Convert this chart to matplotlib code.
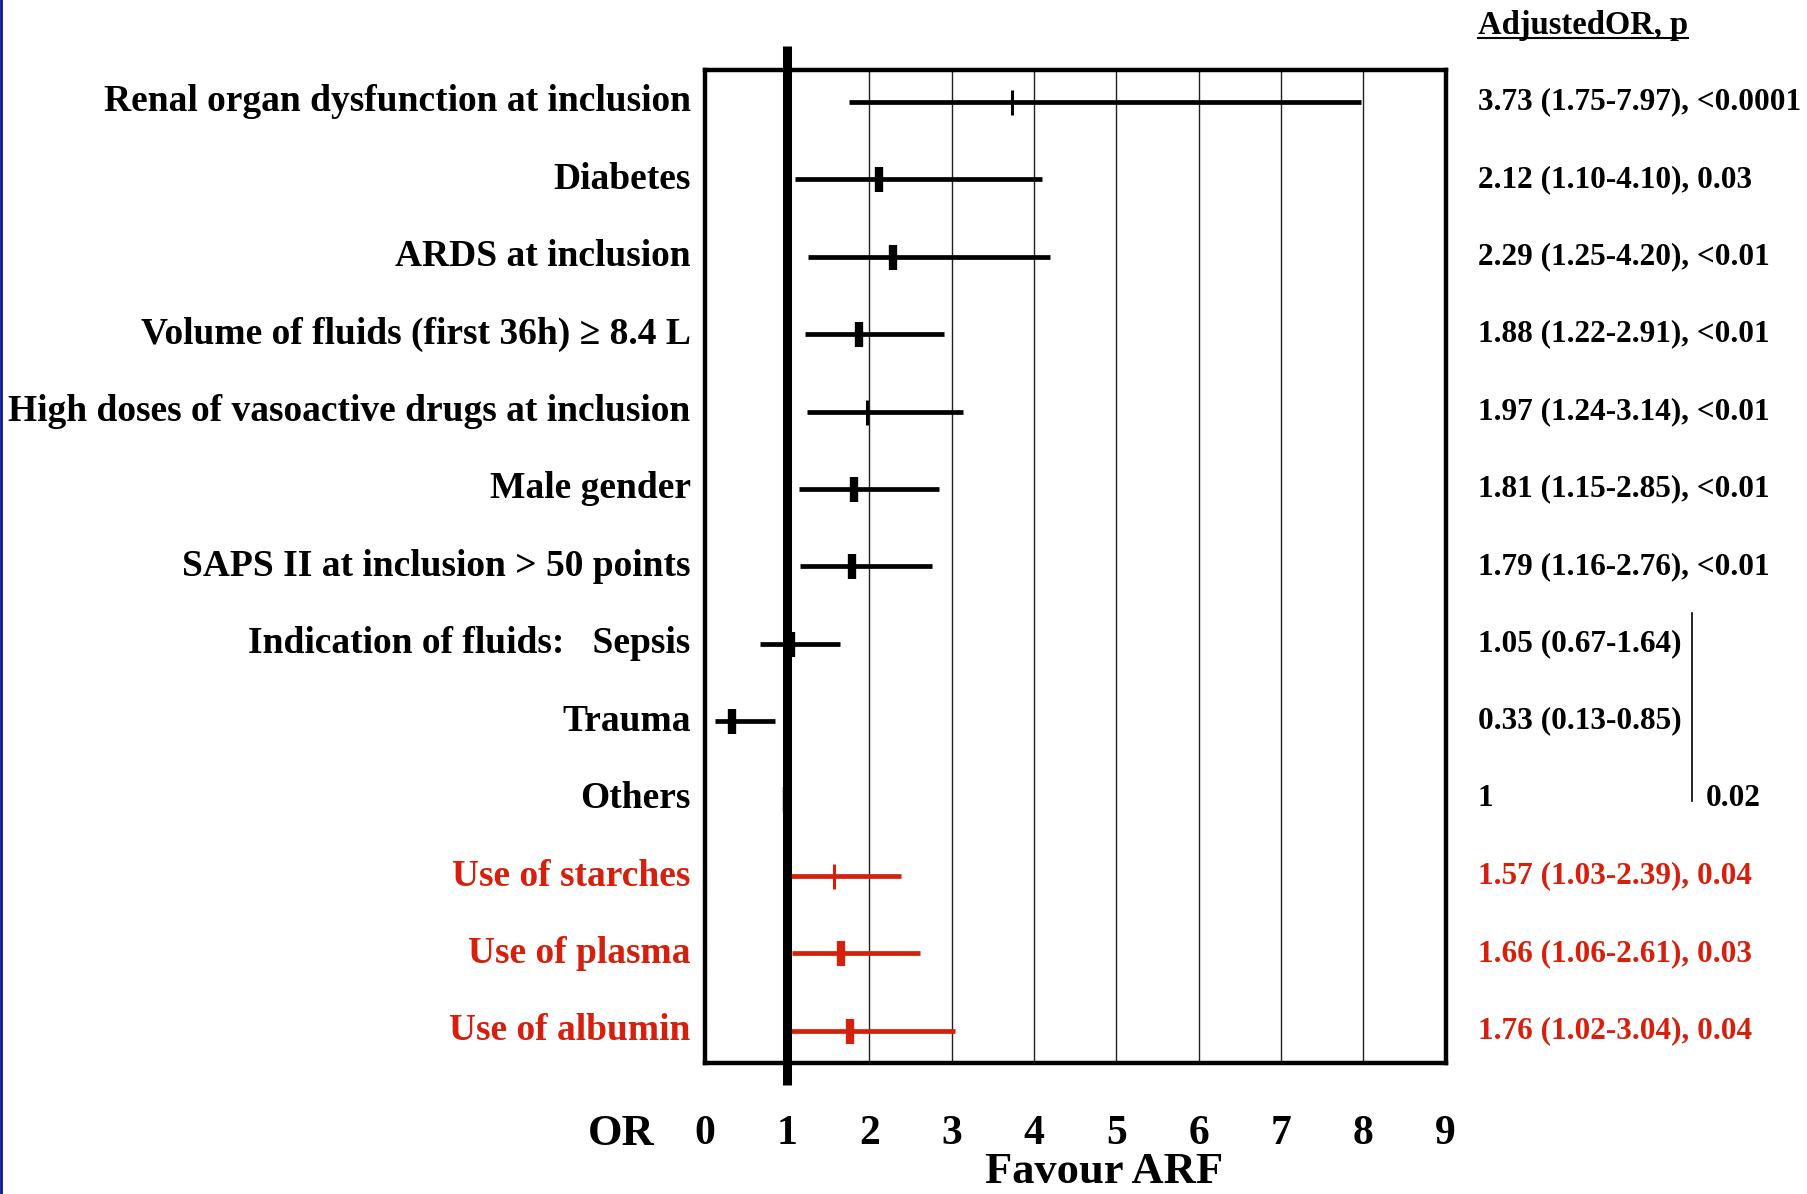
import matplotlib
matplotlib.use("Agg")
import matplotlib.pyplot as plt
from matplotlib.lines import Line2D
from matplotlib.transforms import blended_transform_factory

plt.rcParams['font.family'] = ['Liberation Serif', 'DejaVu Serif']
plt.rcParams['font.weight'] = 'bold'

# adjusted odds ratios with 95% CI, top row first
labels = ["Renal organ dysfunction at inclusion",
          "Diabetes",
          "ARDS at inclusion",
          "Volume of fluids (first 36h) \u2265 8.4 L",
          "High doses of vasoactive drugs at inclusion",
          "Male gender",
          "SAPS II at inclusion > 50 points",
          "Indication of fluids:   Sepsis",
          "Trauma",
          "Others",
          "Use of starches",
          "Use of plasma",
          "Use of albumin"]
odds = [3.73, 2.12, 2.29, 1.88, 1.97, 1.81, 1.79, 1.05, 0.33, 1.00, 1.57, 1.66, 1.76]
ci_low = [1.75, 1.10, 1.25, 1.22, 1.24, 1.15, 1.16, 0.67, 0.13, 1.00, 1.03, 1.06, 1.02]
ci_high = [7.97, 4.10, 4.20, 2.91, 3.14, 2.85, 2.76, 1.64, 0.85, 1.00, 2.39, 2.61, 3.04]
p_text = ["<0.0001", "0.03", "<0.01", "<0.01", "<0.01", "<0.01", "<0.01",
          None, None, None, "0.04", "0.03", "0.04"]
fluid_p = "0.02"
is_fluid = [False] * 10 + [True] * 3
x_ticks = [0, 1, 2, 3, 4, 5, 6, 7, 8, 9]
grid_x = [2, 3, 4, 5, 6, 7, 8]

red = '#d4200c'
thin_marker = [True, False, False, False, True, False, False, False, False, False, True, False, False]

fig = plt.figure(figsize=(18.07, 11.94), dpi=100)
ax = fig.add_axes([0.390, 0.110, 0.410, 0.831])

n = len(labels)
y = list(range(n))

for gx in grid_x:
    ax.axvline(gx, color='#222222', lw=1.0, zorder=1)

for i in range(n):
    c = red if is_fluid[i] else 'black'
    ax.plot([ci_low[i], ci_high[i]], [y[i], y[i]], color=c, lw=3.4,
            solid_capstyle='butt', zorder=3)
    ax.plot(odds[i], y[i], marker='|', markersize=18,
            mew=2.2 if thin_marker[i] else 6, color=c, zorder=4)

# reference line at OR = 1, running past the frame
ax.plot([1, 1], [-0.715, 12.7], color='black', lw=6.5, clip_on=False, zorder=5,
        solid_capstyle='butt')

ax.set_xlim(0, 9)
ax.set_ylim(12.41, -0.405)
ax.set_yticks([])
ax.set_xticks(x_ticks, labels=[str(t) for t in x_ticks])
ax.tick_params(axis='x', length=0, pad=38, labelsize=30)
for s in ax.spines.values():
    s.set_linewidth(3.2)

# row labels on the left
for i in range(n):
    c = red if is_fluid[i] else 'black'
    ax.text(-0.17, y[i], labels[i], ha='right', va='center', fontsize=27,
            color=c, clip_on=False)

# estimates on the right
for i in range(n):
    c = red if is_fluid[i] else 'black'
    if odds[i] == 1.0 and ci_low[i] == ci_high[i]:
        s = "1"
    else:
        s = f"{odds[i]:.2f} ({ci_low[i]:.2f}-{ci_high[i]:.2f})"
    if p_text[i] is not None:
        s += f", {p_text[i]}"
    ax.text(9.39, y[i], s, ha='left', va='center', fontsize=22.5, color=c,
            clip_on=False)

# bracket for the indication-of-fluids group
ax.plot([11.99, 11.99], [6.6, 9.03], color='black', lw=1.2, clip_on=False)
ax.text(12.16, 9.0, fluid_p, ha='left', va='center', fontsize=22.5, clip_on=False)

# axis captions
trans = blended_transform_factory(ax.transData, ax.transAxes)
ax.text(-1.01, -0.072, "OR", transform=trans, ha='center', va='center',
        fontsize=32, clip_on=False)
fig.text(0.611, 0.002, "Favour ARF", ha='center', va='bottom', fontsize=32)

hdr = fig.text(0.818, 0.979, "AdjustedOR, p", ha='left', va='center', fontsize=23.5)
fig.canvas.draw()
bb = hdr.get_window_extent().transformed(fig.transFigure.inverted())
fig.add_artist(Line2D([bb.x0, bb.x1], [bb.y0 + 0.002, bb.y0 + 0.002],
                      transform=fig.transFigure, color='black', lw=1.5))

# thin frame line on the left edge
fig.add_artist(Line2D([0.0008, 0.0008], [0, 1], transform=fig.transFigure,
                      color='#0a1a8c', lw=2))

fig.savefig("out.png", dpi=100)
